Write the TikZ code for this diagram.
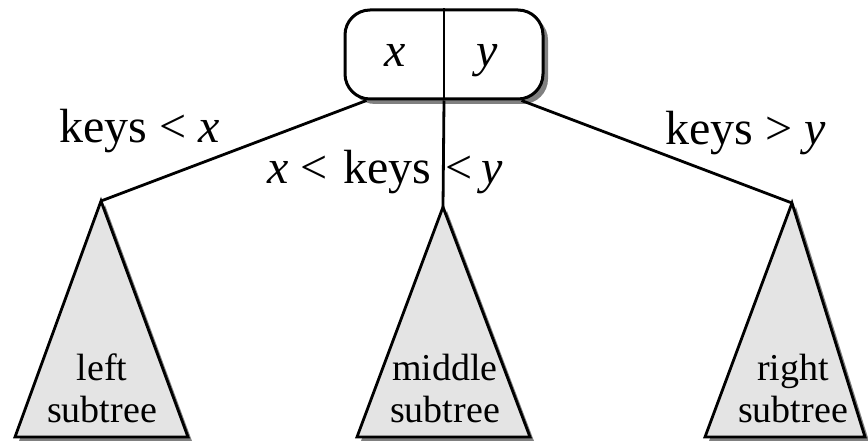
\documentclass[tikz,border=0pt]{standalone}
\usepackage{fontspec}
\setmainfont{Liberation Serif}
\usetikzlibrary{shadows}
\definecolor{shadowgray}{HTML}{808080}
\definecolor{treefill}{HTML}{E4E4E4}
\tikzset{
  rootbox/.style={draw, line width=3pt, rounded corners=25pt, fill=white,
    minimum width=198pt, minimum height=89pt, inner sep=0pt,
    drop shadow={shadow xshift=5pt, shadow yshift=-5pt, fill=shadowgray, opacity=1}},
  bigtext/.style={inner sep=0pt, font=\fontsize{48}{52}\selectfont},
  subtext/.style={inner sep=0pt, anchor=base, font=\fontsize{38}{42}\selectfont},
  conn/.style={line width=2.8pt},
  tree/.style={draw, fill=treefill, line width=2.8pt, line join=miter},
  treeshadow/.style={fill=shadowgray},
}
\begin{document}
\begin{tikzpicture}[x=1pt, y=-1pt]
\useasboundingbox (0,0) rectangle (868,441);

% root node
\node[rootbox] (root) at (444,54.5) {};
\node[bigtext, anchor=base] (kx) at (395,67) {\itshape x};
\node[bigtext, anchor=base] (ky) at (487,67) {\itshape y};

% subtree apexes
\coordinate (la) at (101,201);
\coordinate (ma) at (443,207);
\coordinate (ra) at (792,203);

% shadows of subtrees
\fill[treeshadow] ([shift={(4,4)}]la) -- ([shift={(4,4)}]188,437) -- ([shift={(4,4)}]15,437) -- cycle;
\fill[treeshadow] ([shift={(4,4)}]ma) -- ([shift={(4,4)}]530,437) -- ([shift={(4,4)}]357,437) -- cycle;
\fill[treeshadow] ([shift={(4,4)}]ra) -- ([shift={(4,4)}]865,437) -- ([shift={(4,4)}]705,437) -- cycle;

% subtrees
\draw[tree] (la) -- (188,437) -- (15,437) -- cycle;
\draw[tree] (ma) -- (530,437) -- (357,437) -- cycle;
\draw[tree] (ra) -- (865,437) -- (705,437) -- cycle;

% connectors
\draw[line width=1.8pt] (root.north) -- (root.south);
\draw[conn] ([xshift=23pt]root.south west) -- (la);
\draw[conn] (root.south) -- (ma);
\draw[conn] ([xshift=-23pt]root.south east) -- (ra);

% edge labels
\node[bigtext, anchor=base west] (l1) at (59,143) {keys < \textit{x}};
\node[bigtext, anchor=base west] (l2) at (267,183) {\textit{x}\hspace{12pt}<\hspace{16pt}keys\hspace{14pt}<\hspace{9pt}\textit{y}};
\node[bigtext, anchor=base west] (l3) at (665,145) {keys > \textit{y}};

% subtree labels
\node[subtext] (lt1) at (102,380) {left};
\node[subtext] (lt2) at (102,422) {subtree};
\node[subtext] (mt1) at (445,380) {middle};
\node[subtext] (mt2) at (445,422) {subtree};
\node[subtext] (rt1) at (793,380) {right};
\node[subtext] (rt2) at (793,422) {subtree};
\end{tikzpicture}
\end{document}
